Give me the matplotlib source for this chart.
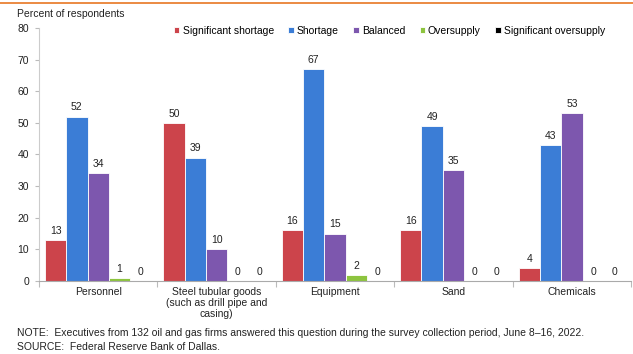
import matplotlib.pyplot as plt
import numpy as np

plt.rcParams['font.family'] = ['Liberation Sans', 'DejaVu Sans']

categories = ["Personnel", "Steel tubular goods\n(such as drill pipe and\ncasing)",
              "Equipment", "Sand", "Chemicals"]
series_names = ["Significant shortage", "Shortage", "Balanced", "Oversupply",
                "Significant oversupply"]
sig_shortage = [13, 50, 16, 16, 4]
shortage = [52, 39, 67, 49, 43]
balanced = [34, 10, 15, 35, 53]
oversupply = [1, 0, 2, 0, 0]
sig_oversupply = [0, 0, 0, 0, 0]
colors = ["#CC444B", "#3B7DD6", "#7D57AE", "#8DC43F", "#000000"]

series = [sig_shortage, shortage, balanced, oversupply, sig_oversupply]

fig = plt.figure(figsize=(6.33, 3.54), dpi=100)
ax = fig.add_axes([0.0616, 0.2062, 0.9354, 0.7148])

x = np.arange(len(categories))
width = 0.18
for i, (vals, name, c) in enumerate(zip(series, series_names, colors)):
    pos = x + (i - 2) * width
    ax.bar(pos, vals, width=width, color=c, edgecolor='white', linewidth=0.6,
           label=name)
    for px, v in zip(pos, vals):
        ax.annotate(str(v), (px, v), xytext=(0, 3), textcoords='offset points',
                    ha='center', va='bottom', fontsize=7.5, color='#222222')

ax.set_xlim(-0.5, len(categories) - 0.5)
ax.set_ylim(0, 80)
ax.set_yticks(range(0, 81, 10))
ax.set_xticks(x)
ax.set_xticklabels(categories, fontsize=7.5, color='#222222', linespacing=1.15)
ax.set_xticks(np.arange(-0.5, len(categories)), minor=True)
ax.tick_params(axis='x', which='major', length=0, pad=4)
ax.tick_params(axis='x', which='minor', length=4, color='#BBBBBB', width=0.8)
ax.tick_params(axis='y', length=3, color='#BBBBBB', width=0.8, labelsize=7.5,
               labelcolor='#222222', pad=4)

for side in ['top', 'right']:
    ax.spines[side].set_visible(False)
ax.spines['left'].set_color('#CCCCCC')
ax.spines['bottom'].set_color('#AAAAAA')
ax.spines['left'].set_linewidth(0.8)
ax.spines['bottom'].set_linewidth(0.8)

ax.legend(loc='upper right', bbox_to_anchor=(0.963, 1.025), ncol=5, frameon=False,
          fontsize=7.5, handlelength=0.5, handleheight=0.5, handletextpad=0.3,
          columnspacing=1.4, borderaxespad=0)

fig.text(0.027, 0.96, "Percent of respondents", fontsize=7.5, color='#222222',
         va='center')
fig.text(0.027, 0.059,
         "NOTE:  Executives from 132 oil and gas firms answered this question "
         "during the survey collection period, June 8\u201316, 2022.",
         fontsize=7.5, color='#222222', va='center')
fig.text(0.027, 0.02, "SOURCE:  Federal Reserve Bank of Dallas.",
         fontsize=7.5, color='#222222', va='center')

# orange rule across the top
fig.add_artist(plt.Line2D([0, 1], [0.992, 0.992], color='#E87722', linewidth=1.2))

fig.savefig("out.png", dpi=100)
